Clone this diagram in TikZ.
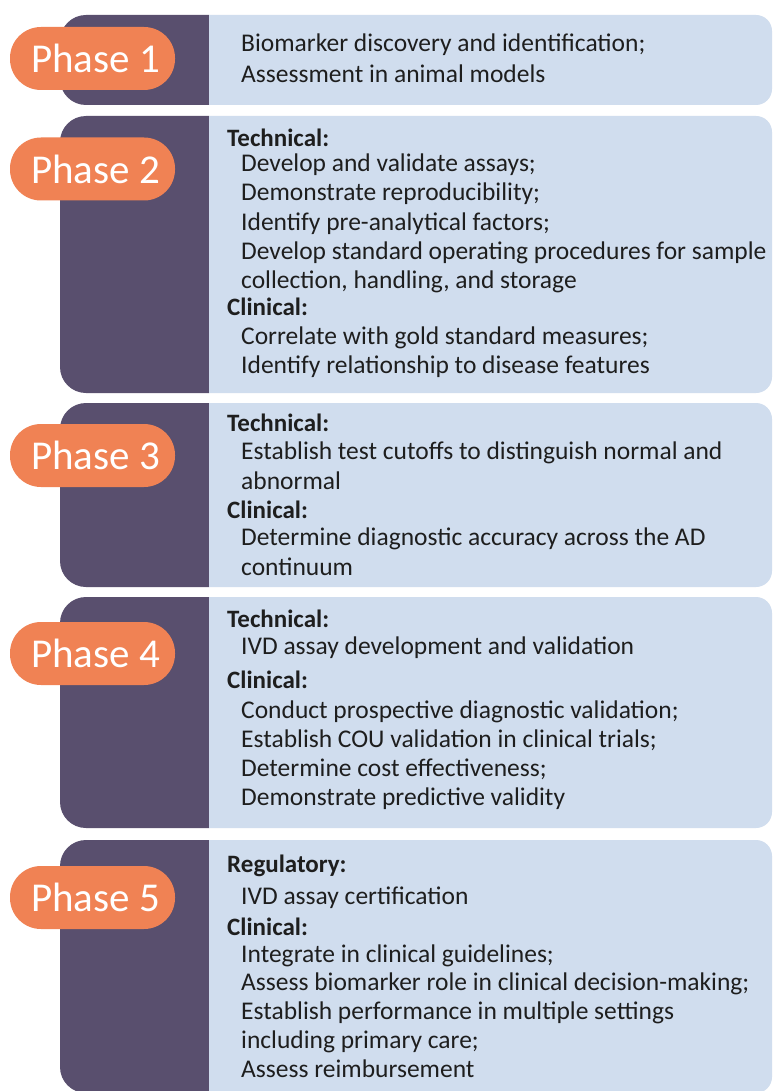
\documentclass[tikz,border=0pt]{standalone}
\usepackage{fontspec}
\setmainfont{Carlito}
\definecolor{darkc}{HTML}{594F6E}
\definecolor{lightc}{HTML}{D0DDEE}
\definecolor{orangec}{HTML}{F08254}
\definecolor{textc}{HTML}{1E1E1E}
\tikzset{
  pill/.style={fill=orangec, rounded corners=31pt, minimum width=165pt, minimum height=63pt, inner sep=0pt, text=white, font=\fontsize{41}{41}\selectfont},
  head/.style={anchor=base west, inner sep=0pt, text=textc, font=\fontsize{25}{30}\selectfont\bfseries},
  body/.style={anchor=base west, inner sep=0pt, text=textc, font=\fontsize{25.5}{30}\selectfont},
}
\newcommand{\band}[2]{%
  \begin{scope}\clip (0,0) rectangle (209,1091);
    \fill[darkc, rounded corners=26pt] (60,#1) rectangle (280,#2);
  \end{scope}
  \begin{scope}\clip (209,0) rectangle (773,1091);
    \fill[lightc, rounded corners=16pt] (150,#1) rectangle (772,#2);
  \end{scope}}
\begin{document}
\begin{tikzpicture}[x=1pt,y=-1pt]
\useasboundingbox (0,0) rectangle (773,1091);
\fill[white] (0,0) rectangle (773,1091);
\band{15}{105}
\band{116}{393}
\band{403}{587}
\band{597}{828}
\band{840}{1093}
\node[pill] (p1) at (92.5,58.5) {\hspace{6pt}Phase 1};
\node[pill] (p2) at (92.5,169) {\hspace{6pt}Phase 2};
\node[pill] (p3) at (92.5,455.5) {\hspace{6pt}Phase 3};
\node[pill] (p4) at (92.5,653.5) {\hspace{6pt}Phase 4};
\node[pill] (p5) at (92.5,897.5) {\hspace{6pt}Phase 5};
% Phase 1
\node[body] (a1) at (241,52) {Biomarker discovery and identification;};
\node[body] (a2) at (241,83) {Assessment in animal models};
% Phase 2
\node[head] (b0) at (227,147) {Technical:};
\node[body] (b1) at (241,172) {Develop and validate assays;};
\node[body] (b2) at (241,201) {Demonstrate reproducibility;};
\node[body] (b3) at (241,230) {Identify pre-analytical factors;};
\node[body] (b4) at (241,259) {Develop standard operating procedures for sample};
\node[body] (b5) at (241,288) {collection, handling, and storage};
\node[head] (b6) at (227,315) {Clinical:};
\node[body] (b7) at (241,344) {Correlate with gold standard measures;};
\node[body] (b8) at (241,373) {Identify relationship to disease features};
% Phase 3
\node[head] (c0) at (227,431) {Technical:};
\node[body] (c1) at (241,459) {Establish test cutoffs to distinguish normal and};
\node[body] (c2) at (241,489) {abnormal};
\node[head] (c3) at (227,518) {Clinical:};
\node[body] (c4) at (241,545) {Determine diagnostic accuracy across the AD};
\node[body] (c5) at (241,575) {continuum};
% Phase 4
\node[head] (d0) at (227,627) {Technical:};
\node[body] (d1) at (241,654) {IVD assay development and validation};
\node[head] (d2) at (227,688) {Clinical:};
\node[body] (d3) at (241,718) {Conduct prospective diagnostic validation;};
\node[body] (d4) at (241,747) {Establish COU validation in clinical trials;};
\node[body] (d5) at (241,776) {Determine cost effectiveness;};
\node[body] (d6) at (241,805) {Demonstrate predictive validity};
% Phase 5
\node[head] (e0) at (227,872) {Regulatory:};
\node[body] (e1) at (241,904) {IVD assay certification};
\node[head] (e2) at (227,935) {Clinical:};
\node[body] (e3) at (241,962) {Integrate in clinical guidelines;};
\node[body] (e4) at (241,990) {Assess biomarker role in clinical decision-making;};
\node[body] (e5) at (241,1019) {Establish performance in multiple settings};
\node[body] (e6) at (241,1048) {including primary care;};
\node[body] (e7) at (241,1077) {Assess reimbursement};
\end{tikzpicture}
\end{document}
